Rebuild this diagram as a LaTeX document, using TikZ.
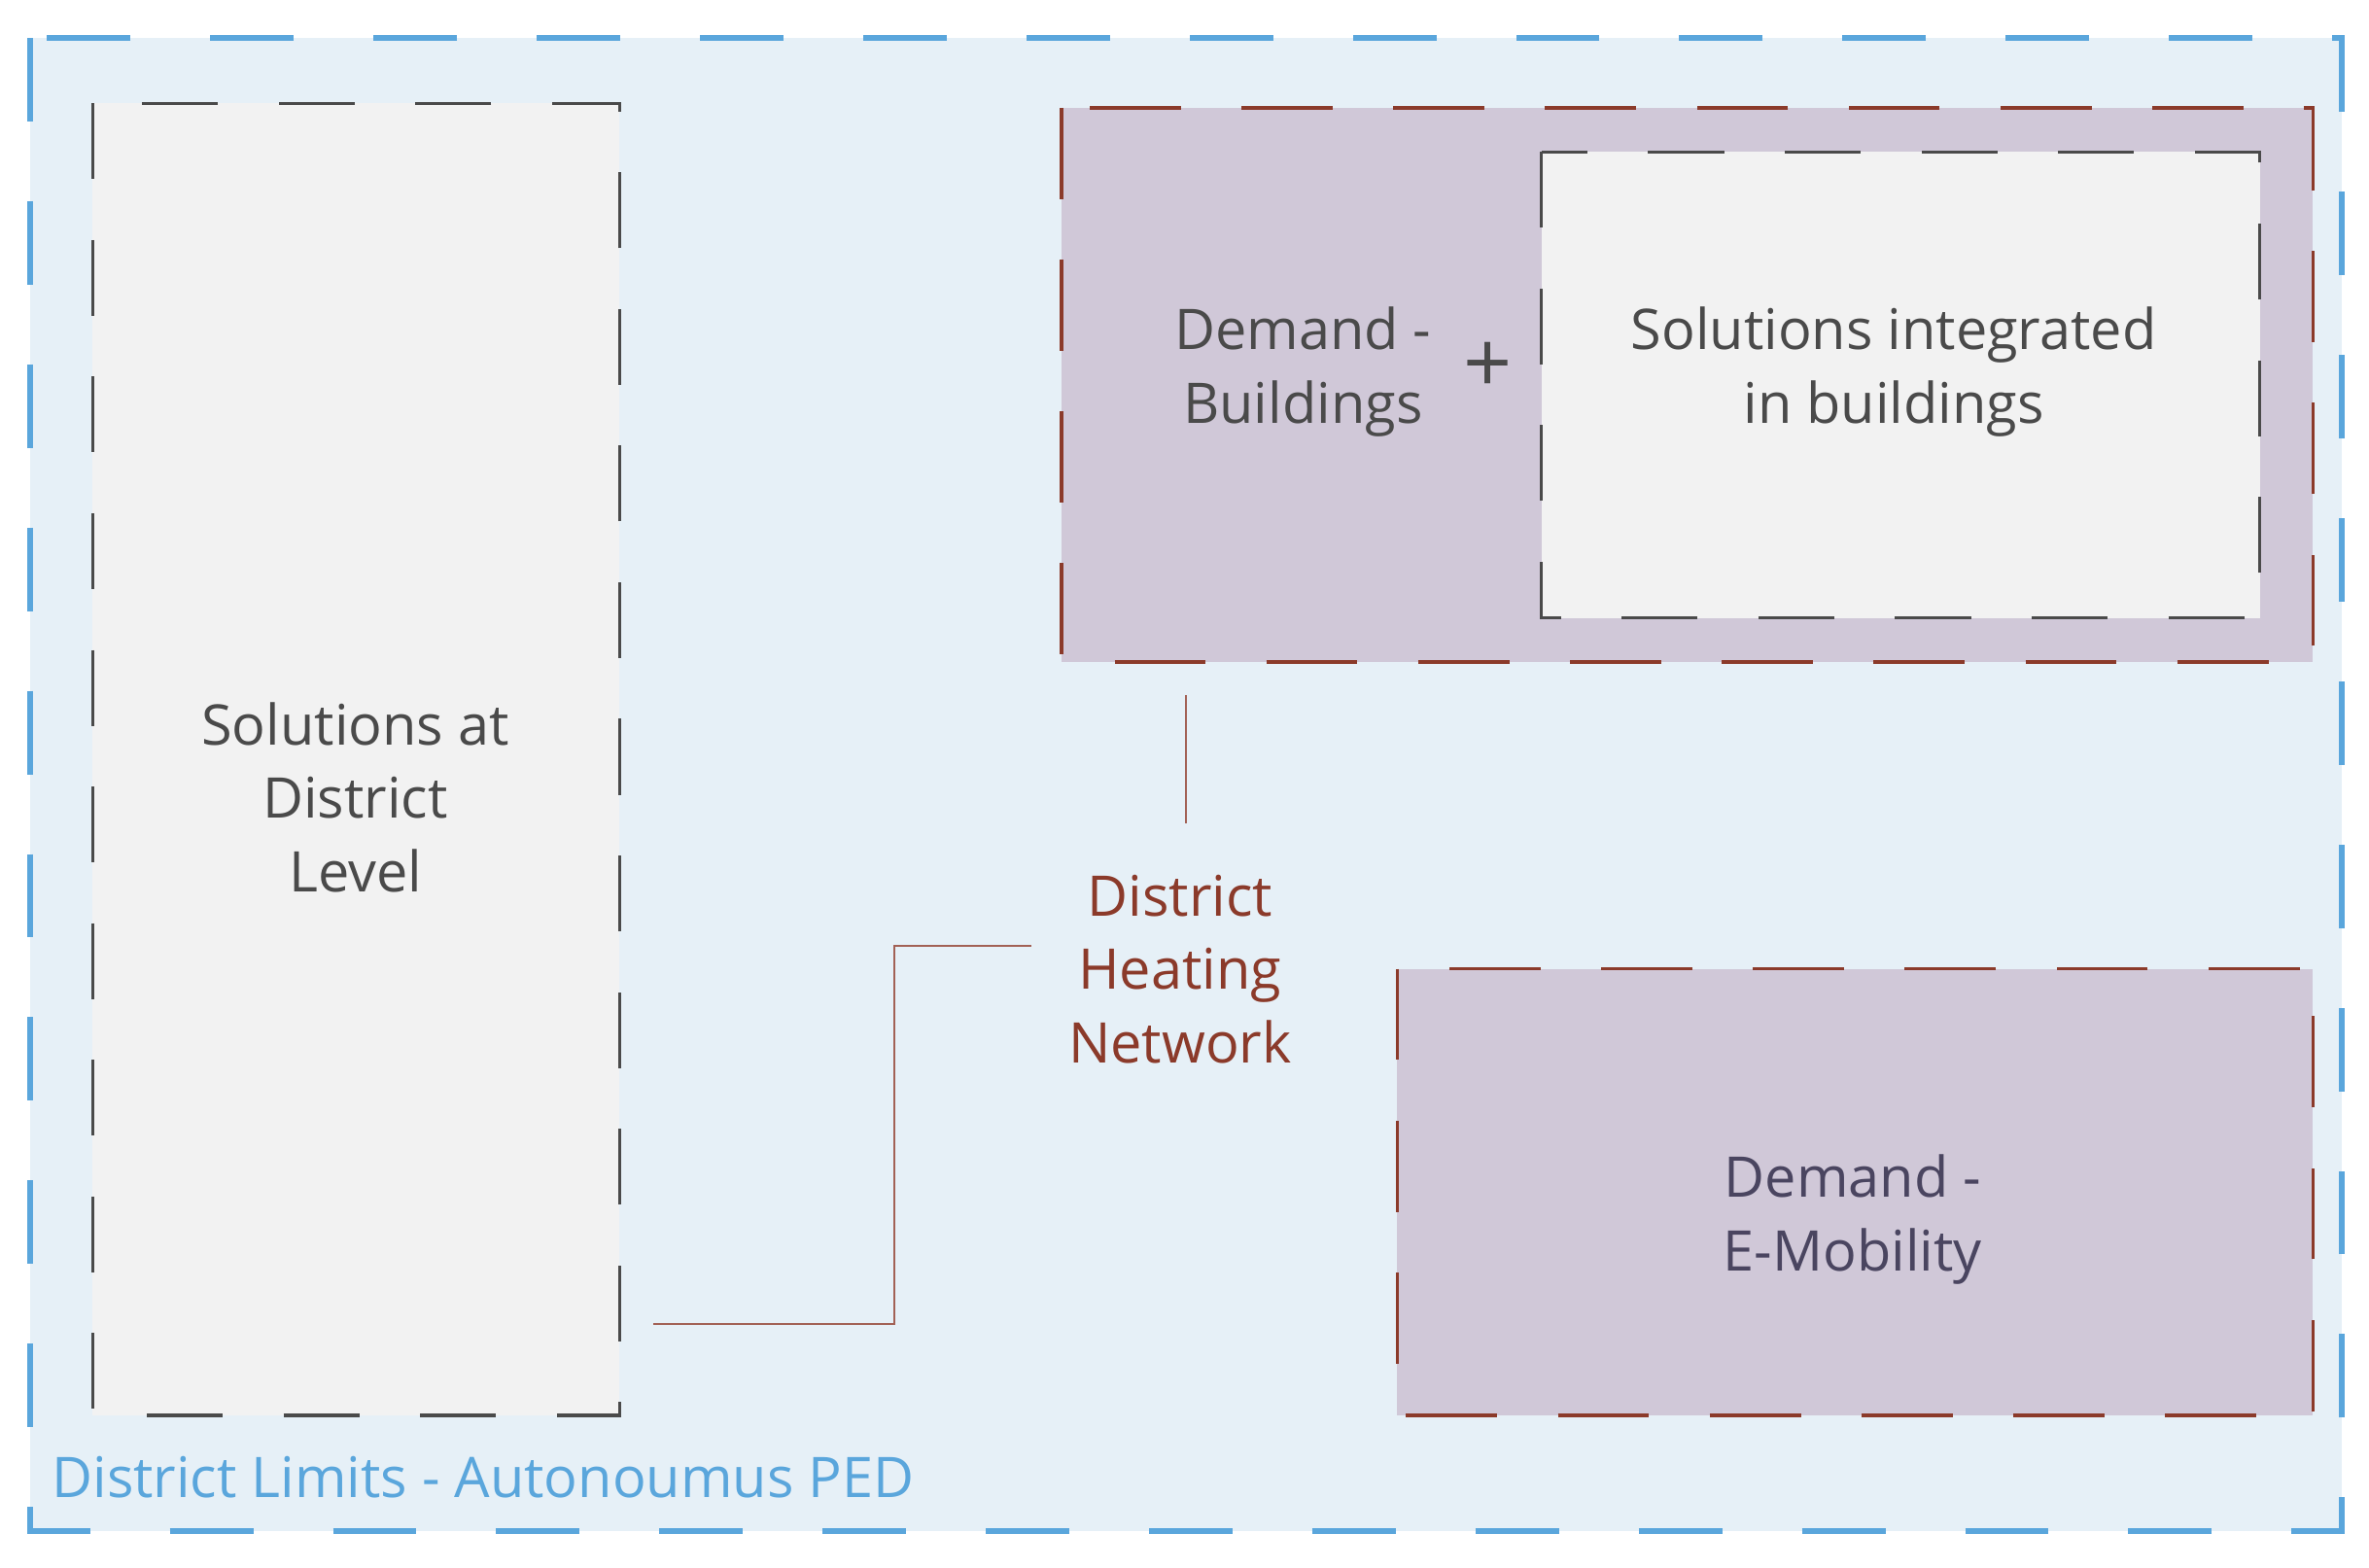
\documentclass[tikz,border=0pt]{standalone}
\usepackage{fontspec}
\setmainfont{Open Sans}
\definecolor{bgblue}{HTML}{E6F0F7}
\definecolor{limblue}{HTML}{5AA6DC}
\definecolor{boxgray}{HTML}{F2F2F2}
\definecolor{dgray}{HTML}{4A4A4A}
\definecolor{lilac}{HTML}{D0C8D8}
\definecolor{brown}{HTML}{8B3A2A}
\definecolor{txt}{HTML}{4A4A4A}
\definecolor{ptxt}{HTML}{4A4560}
\begin{document}
\begin{tikzpicture}[x=0.02cm,y=-0.02cm,
  grayb/.style={fill=boxgray,draw=dgray,line width=1.2pt,dash pattern=on 1.0cm off 0.8cm},
  lilb/.style={fill=lilac,draw=brown,line width=1.2pt,dash pattern=on 1.2cm off 0.8cm},
  lab/.style={font=\fontsize{21}{27.5}\selectfont,align=center,text=txt},
  conn/.style={draw=brown!80,line width=0.7pt}]
\useasboundingbox (0,0) rectangle (1560,1032);
\fill[white] (0,0) rectangle (1560,1032);
\draw[fill=bgblue,draw=limblue,line width=2.2pt,dash pattern=on 1.1cm off 1.05cm] (20,25) rectangle (1542,1008);
\draw[grayb] (61,68) rectangle (408,932);
\draw[lilb] (699,71) rectangle (1523,436);
\draw[grayb] (1015,100) rectangle (1488,407);
\draw[lilb] (920,638) rectangle (1523,932);
\node[lab] (dist) at (234,525) {Solutions at\\District\\Level};
\node[lab] (db) at (858,245) {Demand -\\Buildings};
\node[lab,font=\fontsize{32}{32}\selectfont] (plus) at (980,242) {+};
\node[lab] (sib) at (1247,245) {Solutions integrated\\in buildings};
\node[lab,text=brown] (dhn) at (777,638) {District\\Heating\\Network};
\node[lab,text=ptxt] (em) at (1220,803) {Demand -\\E-Mobility};
\node[lab,text=limblue,anchor=west] (lim) at (28,973) {District Limits - Autonoumus PED};
\coordinate (a1) at (781,458);
\coordinate (a2) at (781,542);
\coordinate (b1) at (679,623);
\coordinate (b2) at (430,872);
\draw[conn] (a1) -- (a2);
\draw[conn] (b1) -- (589,623) -- (589,872) -- (b2);
\end{tikzpicture}
\end{document}
